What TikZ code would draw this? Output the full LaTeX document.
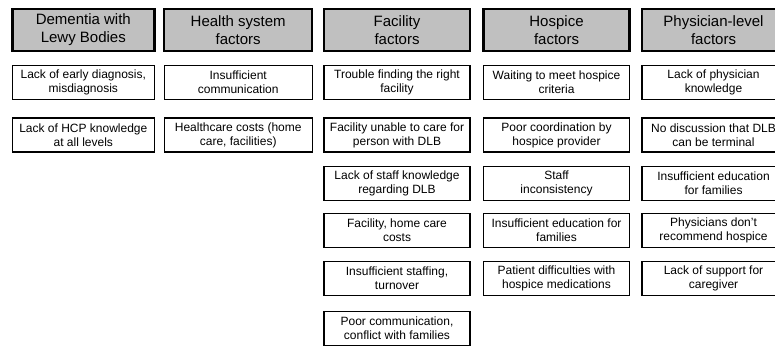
\documentclass[tikz,border=0pt]{standalone}
\usepackage{fontspec}
\setmainfont{Liberation Sans}
\definecolor{headgray}{RGB}{192,192,192}
\begin{document}
\begin{tikzpicture}[x=1pt,y=-1pt,
  head/.style={draw=black, line width=2.4pt, fill=headgray, minimum height=42pt,
    align=center, inner sep=0pt, font=\fontsize{15}{18}\selectfont},
  item/.style={draw=black, line width=1.1pt, fill=white, minimum height=34pt,
    align=center, inner sep=0pt, font=\fontsize{12}{14}\selectfont},
  wA/.style={minimum width=142pt},
  wB/.style={minimum width=148pt},
  wC/.style={minimum width=146pt},
  wD/.style={minimum width=146pt},
  wE/.style={minimum width=143pt}]
\useasboundingbox (0,0) rectangle (775,348);
\clip (0,0) rectangle (775,348);
\fill[white] (0,0) rectangle (775,348);

% column headers
\node[head,wA] (hA) at (83.3,30)  {Dementia with\\Lewy Bodies};
\node[head,wB] (hB) at (238.2,30) {Health system\\factors};
\node[head,wC] (hC) at (397,30)   {Facility\\factors};
\node[head,wD] (hD) at (556.5,30) {Hospice\\factors};
\node[head,wE] (hE) at (713.5,30) {Physician-level\\factors};

% Dementia with Lewy Bodies
\node[item,wA] (a1) at (83.3,82.5) {Lack of early diagnosis,\\misdiagnosis};
\node[item,wA] (a2) at (83.3,135)  {Lack of HCP knowledge\\at all levels};

% Health system factors
\node[item,wB] (b1) at (238.2,82.5) {Insufficient\\communication};
\node[item,wB] (b2) at (238.2,135)  {Healthcare costs (home\\care, facilities)};

% Facility factors
\node[item,wC] (c1) at (397,82.5)  {Trouble finding the right\\facility};
\node[item,wC] (c2) at (397,135)   {Facility unable to care for\\person with DLB};
\node[item,wC] (c3) at (397,183.5) {Lack of staff knowledge\\regarding DLB};
\node[item,wC] (c4) at (397,230.5) {Facility, home care\\costs};
\node[item,wC] (c5) at (397,278.5) {Insufficient staffing,\\turnover};
\node[item,wC] (c6) at (397,328.5) {Poor communication,\\conflict with families};

% Hospice factors
\node[item,wD] (d1) at (556.5,82.5)  {Waiting to meet hospice\\criteria};
\node[item,wD] (d2) at (556.5,135)   {Poor coordination by\\hospice provider};
\node[item,wD] (d3) at (556.5,183.5) {Staff\\inconsistency};
\node[item,wD] (d4) at (556.5,230.5) {Insufficient education for\\families};
\node[item,wD] (d5) at (556.5,278.5) {Patient difficulties with\\hospice medications};

% Physician-level factors
\node[item,wE] (e1) at (713.5,82.5)  {Lack of physician\\knowledge};
\node[item,wE] (e2) at (713.5,135)   {No discussion that DLB\\can be terminal};
\node[item,wE] (e3) at (713.5,183.5) {Insufficient education\\for families};
\node[item,wE] (e4) at (713.5,230.5) {Physicians don't\\recommend hospice};
\node[item,wE] (e5) at (713.5,278.5) {Lack of support for\\caregiver};
\end{tikzpicture}
\end{document}
